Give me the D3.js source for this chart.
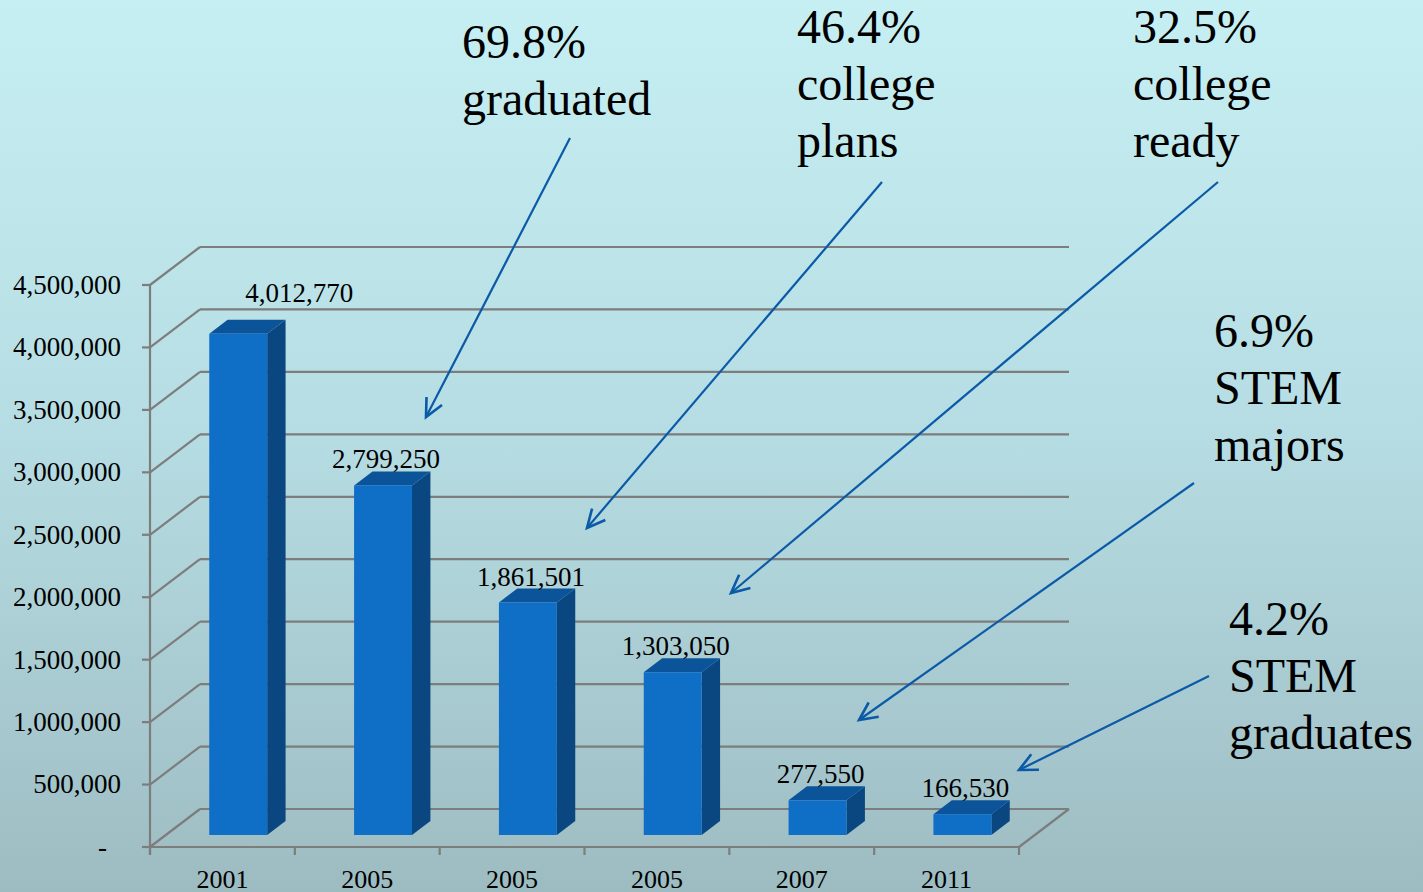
<!DOCTYPE html>
<html><head><meta charset="utf-8">
<script src="https://cdn.jsdelivr.net/npm/d3@7"></script>
<style>html,body{margin:0;padding:0;overflow:hidden;}</style>
</head><body>
<svg id="c" width="1423" height="892"></svg>
<script>
// ---- data ----
const categories = ["2001", "2005", "2005", "2005", "2007", "2011"];
const values = [4012770, 2799250, 1861501, 1303050, 277550, 166530];
const yTicks = [0, 500000, 1000000, 1500000, 2000000, 2500000, 3000000, 3500000, 4000000, 4500000];
const noteLines = [
  ["69.8%", "graduated"],
  ["46.4%", "college", "plans"],
  ["32.5%", "college", "ready"],
  ["6.9%", "STEM", "majors"],
  ["4.2%", "STEM", "graduates"]
];

// ---- layout ----
const svg = d3.select("#c");
const W = 1423, H = 892;
const L = 150, R = 1019, B = 847, T = 285;
const DX = 50, DY = -38;          // full depth offset
const f0 = 0.316, f1 = 0.684;     // bar front/back depth fraction
const FONT = "'Liberation Serif', 'Times New Roman', serif";

const defs = svg.append("defs");
const grad = defs.append("linearGradient").attr("id", "bg").attr("x1", 0).attr("y1", 0).attr("x2", 0).attr("y2", 1);
grad.append("stop").attr("offset", "0%").attr("stop-color", "#c6eff3");
grad.append("stop").attr("offset", "50%").attr("stop-color", "#b5dce2");
grad.append("stop").attr("offset", "100%").attr("stop-color", "#9dbcc2");
svg.append("rect").attr("width", W).attr("height", H).attr("fill", "url(#bg)");

const x = d3.scaleBand().domain(d3.range(categories.length)).range([L, R]).paddingInner(0.6).paddingOuter(0.3);
const y = d3.scaleLinear().domain([0, 4500000]).range([B, T]);
const step = x.step();

const gridColor = "#7d7d7d";
const g = svg.append("g");

// back wall horizontal lines + side diagonals
yTicks.forEach(t => {
  g.append("line").attr("x1", L + DX).attr("x2", R + DX).attr("y1", y(t) + DY).attr("y2", y(t) + DY)
    .attr("stroke", gridColor).attr("stroke-width", 2.2);
  g.append("line").attr("x1", L).attr("y1", y(t)).attr("x2", L + DX).attr("y2", y(t) + DY)
    .attr("stroke", gridColor).attr("stroke-width", 2.2);
});
// floor front & right edge
g.append("line").attr("x1", L).attr("x2", R).attr("y1", B).attr("y2", B).attr("stroke", gridColor).attr("stroke-width", 2.2);
g.append("line").attr("x1", R).attr("y1", B).attr("x2", R + DX).attr("y2", B + DY).attr("stroke", gridColor).attr("stroke-width", 2.2);
// vertical axis
g.append("line").attr("x1", L).attr("x2", L).attr("y1", T).attr("y2", B + 8).attr("stroke", gridColor).attr("stroke-width", 2.2);
// y ticks and labels
yTicks.forEach(t => {
  g.append("line").attr("x1", L - 8).attr("x2", L).attr("y1", y(t)).attr("y2", y(t)).attr("stroke", gridColor).attr("stroke-width", 2.2);
  g.append("text").attr("x", t === 0 ? 107 : 121).attr("y", y(t)).attr("dy", "0.33em").attr("text-anchor", "end")
    .attr("font-family", FONT).attr("font-size", 27).attr("fill", "#000")
    .text(t === 0 ? "-" : d3.format(",")(t));
});
// x ticks
for (let i = 0; i <= categories.length; i++) {
  const xv = L + i * step;
  g.append("line").attr("x1", xv).attr("x2", xv).attr("y1", B).attr("y2", B + 8).attr("stroke", gridColor).attr("stroke-width", 2.2);
}
// x labels
categories.forEach((c, i) => {
  g.append("text").attr("x", x(i) + x.bandwidth() / 2).attr("y", 888).attr("text-anchor", "middle")
    .attr("font-family", FONT).attr("font-size", 26).attr("fill", "#000").text(c);
});

// bars
const bw = x.bandwidth();
const fx = DX * f0, fy = DY * f0;
const bdx = DX * (f1 - f0), bdy = DY * (f1 - f0);
const bars = svg.append("g");
values.forEach((v, i) => {
  const x0 = x(i) + fx, x1 = x0 + bw;
  const yb = B + fy, yt = y(v) + fy;
  // side
  bars.append("path").attr("d", `M${x1},${yb}L${x1 + bdx},${yb + bdy}L${x1 + bdx},${yt + bdy}L${x1},${yt}Z`).attr("fill", "#0a4780");
  // top
  bars.append("path").attr("d", `M${x0},${yt}L${x0 + bdx},${yt + bdy}L${x1 + bdx},${yt + bdy}L${x1},${yt}Z`).attr("fill", "#0c549a");
  // front
  bars.append("rect").attr("x", x0).attr("y", yt).attr("width", bw).attr("height", yb - yt).attr("fill", "#0f6ec6");
  // value label
  const lx = x0 + bw / 2 + 3 + (i === 0 ? 58 : 0);
  const ly = yt + bdy - 3 + (i === 0 ? -15 : 0);
  bars.append("text").attr("x", lx).attr("y", ly).attr("text-anchor", "middle")
    .attr("font-family", FONT).attr("font-size", 27).attr("fill", "#000").text(d3.format(",")(v));
});

// annotations
const noteLayout = [
  { x: 462, y: 58, from: [570, 138], to: [426, 417] },
  { x: 797, y: 43, from: [882, 182], to: [587, 528] },
  { x: 1133, y: 43, from: [1218, 182], to: [731, 593] },
  { x: 1214, y: 347, from: [1194, 483], to: [859, 720] },
  { x: 1229, y: 635, from: [1209, 676], to: [1019, 770] }
];
const arrowColor = "#0b5aa8";
const ann = svg.append("g");
noteLines.forEach((lines, k) => {
  const lay = noteLayout[k];
  const t = ann.append("text").attr("font-family", FONT).attr("font-size", 48).attr("fill", "#000");
  lines.forEach((ln, j) => {
    t.append("tspan").attr("x", lay.x).attr("y", lay.y + j * 57).text(ln);
  });
  const [ax, ay] = lay.from, [bx, by] = lay.to;
  ann.append("line").attr("x1", ax).attr("y1", ay).attr("x2", bx).attr("y2", by)
    .attr("stroke", arrowColor).attr("stroke-width", 2.2);
  const ang = Math.atan2(by - ay, bx - ax);
  const hl = 20, ha = 0.45;
  const p1 = [bx - hl * Math.cos(ang - ha), by - hl * Math.sin(ang - ha)];
  const p2 = [bx - hl * Math.cos(ang + ha), by - hl * Math.sin(ang + ha)];
  ann.append("path").attr("d", `M${p1[0]},${p1[1]}L${bx},${by}L${p2[0]},${p2[1]}`)
    .attr("fill", "none").attr("stroke", arrowColor).attr("stroke-width", 2.6).attr("stroke-linejoin", "miter");
});
</script>
</body></html>
